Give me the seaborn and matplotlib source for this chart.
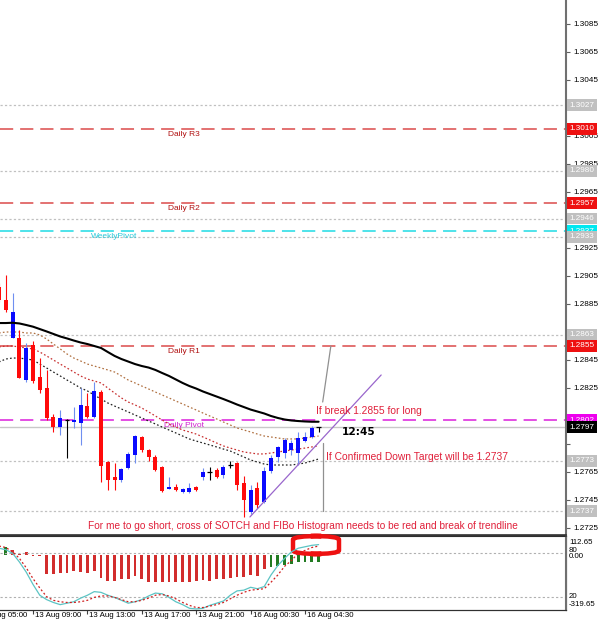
import matplotlib
matplotlib.use("Agg")
import matplotlib.pyplot as plt
import matplotlib.transforms as mtransforms
from matplotlib.patches import FancyBboxPatch
import pandas as pd
import seaborn as sns

sns.set_style("white")
plt.rcParams["font.family"] = ["Liberation Sans", "DejaVu Sans"]
plt.rcParams["lines.scale_dashes"] = False

# ---------------- data ----------------
bar_index = list(range(48))
opens = [1.28974, 1.28879, 1.28607, 1.28607, 1.28307, 1.28557, 1.28329, 1.28250, 1.28043, 1.27971,
         1.28021, 1.28007, 1.28000, 1.28121, 1.28043, 1.28221, 1.27721, 1.27614, 1.27593, 1.27679,
         1.27771, 1.27900, 1.27807, 1.27757, 1.27686, 1.27529, 1.27543, 1.27507, 1.27507, 1.27543,
         1.27614, 1.27650, 1.27664, 1.27629, 1.27700, 1.27714, 1.27571, 1.27364, 1.27536, 1.27436,
         1.27657, 1.27757, 1.27786, 1.27807, 1.27786, 1.27871, 1.27900, 1.27971]
highs = [1.29000, 1.29057, 1.28929, 1.28664, 1.28571, 1.28586, 1.28464, 1.28379, 1.28064, 1.28093,
         1.28029, 1.28114, 1.28250, 1.28214, 1.28293, 1.28236, 1.27729, 1.27714, 1.27679, 1.27793,
         1.27914, 1.27907, 1.27814, 1.27771, 1.27693, 1.27614, 1.27564, 1.27536, 1.27571, 1.27550,
         1.27679, 1.27686, 1.27679, 1.27700, 1.27729, 1.27721, 1.27621, 1.27557, 1.27579, 1.27686,
         1.27771, 1.27836, 1.27893, 1.27879, 1.27936, 1.27936, 1.27979, 1.27971]
lows = [1.28864, 1.28793, 1.28607, 1.28321, 1.28293, 1.28286, 1.28214, 1.28021, 1.27936, 1.27914,
        1.27750, 1.27964, 1.27843, 1.28036, 1.28036, 1.27579, 1.27521, 1.27521, 1.27579, 1.27671,
        1.27714, 1.27793, 1.27729, 1.27657, 1.27507, 1.27529, 1.27514, 1.27500, 1.27500, 1.27514,
        1.27593, 1.27593, 1.27607, 1.27607, 1.27679, 1.27521, 1.27329, 1.27350, 1.27393, 1.27429,
        1.27643, 1.27721, 1.27750, 1.27771, 1.27700, 1.27864, 1.27893, 1.27936]
closes = [1.28879, 1.28807, 1.28795, 1.28321, 1.28536, 1.28300, 1.28236, 1.28036, 1.27971, 1.28036,
          1.28021, 1.28021, 1.28129, 1.28043, 1.28229, 1.27693, 1.27593, 1.27593, 1.27671, 1.27779,
          1.27907, 1.27807, 1.27757, 1.27664, 1.27514, 1.27543, 1.27521, 1.27529, 1.27536, 1.27521,
          1.27650, 1.27650, 1.27614, 1.27686, 1.27700, 1.27557, 1.27450, 1.27521, 1.27414, 1.27657,
          1.27750, 1.27829, 1.27879, 1.27857, 1.27893, 1.27900, 1.27964, 1.27971]

ma_black = [1.28714, 1.28714, 1.28716, 1.28711, 1.28700, 1.28688, 1.28671, 1.28654, 1.28636, 1.28618,
            1.28604, 1.28589, 1.28575, 1.28564, 1.28550, 1.28536, 1.28507, 1.28479, 1.28457, 1.28439,
            1.28421, 1.28407, 1.28396, 1.28379, 1.28357, 1.28336, 1.28311, 1.28286, 1.28264, 1.28246,
            1.28225, 1.28207, 1.28189, 1.28171, 1.28152, 1.28132, 1.28114, 1.28096, 1.28082, 1.28068,
            1.28050, 1.28036, 1.28025, 1.28018, 1.28014, 1.28011, 1.28009, 1.28009]
ma_brown = [1.28643, 1.28650, 1.28650, 1.28650, 1.28643, 1.28643, 1.28629, 1.28600, 1.28564, 1.28529,
            1.28493, 1.28464, 1.28443, 1.28421, 1.28407, 1.28393, 1.28379, 1.28364, 1.28336, 1.28307,
            1.28286, 1.28264, 1.28243, 1.28221, 1.28200, 1.28179, 1.28157, 1.28136, 1.28114, 1.28093,
            1.28071, 1.28050, 1.28029, 1.28007, 1.27986, 1.27964, 1.27950, 1.27936, 1.27921, 1.27907,
            1.27900, 1.27893, 1.27886, 1.27886, 1.27886, 1.27893, 1.27900, 1.27907]
ma_red = [1.28543, 1.28550, 1.28550, 1.28543, 1.28536, 1.28529, 1.28507, 1.28479, 1.28450, 1.28421,
          1.28393, 1.28364, 1.28336, 1.28314, 1.28300, 1.28286, 1.28250, 1.28214, 1.28179, 1.28150,
          1.28129, 1.28107, 1.28079, 1.28050, 1.28021, 1.27993, 1.27971, 1.27950, 1.27936, 1.27921,
          1.27900, 1.27879, 1.27857, 1.27836, 1.27821, 1.27807, 1.27793, 1.27786, 1.27779, 1.27779,
          1.27786, 1.27793, 1.27800, 1.27807, 1.27814, 1.27821, 1.27829, 1.27836]
ma_black_dot = [1.28436, 1.28457, 1.28464, 1.28464, 1.28457, 1.28450, 1.28421, 1.28393, 1.28364, 1.28336,
                1.28307, 1.28279, 1.28250, 1.28229, 1.28200, 1.28171, 1.28143, 1.28121, 1.28100, 1.28079,
                1.28057, 1.28036, 1.28014, 1.27993, 1.27971, 1.27950, 1.27929, 1.27907, 1.27886, 1.27871,
                1.27857, 1.27843, 1.27829, 1.27814, 1.27800, 1.27779, 1.27757, 1.27736, 1.27721, 1.27707,
                1.27700, 1.27700, 1.27700, 1.27700, 1.27707, 1.27714, 1.27729, 1.27743]

stoch_main = [87, 85, 80, 68, 54, 37, 22, 16, 12, 9, 11, 13, 18, 22, 27, 26, 22, 19, 15, 11,
              13, 16, 21, 25, 24, 19, 13, 9, 4, 3, 4, 8, 11, 14, 22, 28, 29, 33, 31, 34,
              50, 63, 73, 82, 87, 89, 91, 92]
stoch_signal = [90, 88, 82, 73, 60, 45, 32, 20, 15, 13, 12, 12, 13, 15, 19, 21, 21, 19, 16, 13,
                13, 15, 18, 22, 23, 21, 17, 12, 8, 5, 5, 7, 9, 12, 17, 22, 26, 29, 30, 31,
                40, 50, 62, 70, 80, 84, 88, 90]
hist_vals = [48, 48, 28, 10, 20, -3, -3, -112, -108, -104, -104, -94, -98, -104, -89, -134, -148, -148,
             -138, -138, -122, -138, -154, -154, -154, -154, -154, -154, -154, -148, -142, -148, -138,
             -138, -134, -124, -124, -118, -122, -83, -69, -63, -59, -49, -40, -40, -40, -40]
hist_dir = ["up"] * 2 + ["down"] * 38 + ["up"] * 8

level_prices = [1.3027, 1.3010, 1.2980, 1.2957, 1.2946, 1.2937, 1.2933, 1.2863, 1.2855,
                1.2802, 1.2797, 1.2773, 1.2737]
level_kinds = ["grey", "red", "grey", "red", "grey", "cyan", "grey", "grey", "red",
               "magenta", "bid", "grey", "grey"]
pivot_names = ["Daily R3", "Daily R2", "WeeklyPivot", "Daily R1", "Daily Pivot"]
pivot_prices = [1.3010, 1.2957, 1.2937, 1.2855, 1.2802]

price_ticks = [1.3085, 1.3065, 1.3045, 1.3025, 1.3005, 1.2985, 1.2965, 1.2945, 1.2925, 1.2905,
               1.2885, 1.2865, 1.2845, 1.2825, 1.2805, 1.2785, 1.2765, 1.2745, 1.2725]
hidden_ticks = [1.3025, 1.2945, 1.2865, 1.2805, 1.2785]
time_ticks = [-3, 5, 13, 21, 29, 37, 45]
time_labels = ["13 Aug 05:00", "13 Aug 09:00", "13 Aug 13:00", "13 Aug 17:00",
               "13 Aug 21:00", "16 Aug 00:30", "16 Aug 04:30"]

trend_x = [36.9, 56.2]
trend_y = [1.27329, 1.28343]
up_arrow_x = [47.6, 48.8]
up_arrow_y = [1.28150, 1.28550]
down_arrow_x = [47.6, 47.6]
down_arrow_y = [1.27857, 1.27371]

# ---------------- figure ----------------
W, H = 598, 625
fig = plt.figure(figsize=(W / 100, H / 100), dpi=100)
ax = fig.add_axes([0, 1 - 535 / H, 566 / W, 535 / H])
axi = fig.add_axes([0, 1 - 610 / H, 566 / W, 74 / H])
axs = axi.twinx()

XL = (0.147, 83.38)
YL_MAIN = (1.27200, 1.310214)

styles = {
    "grey": dict(color="#c0c0c0", lw=0.9, ls=(0, (1.6, 1.6))),
    "red": dict(color="#e06666", lw=1.3, ls=(0, (9.5, 5))),
    "cyan": dict(color="#40e0e8", lw=1.3, ls=(0, (9.5, 5))),
    "magenta": dict(color="#e040e0", lw=1.3, ls=(0, (9.5, 5))),
    "bid": dict(color="#c8c8c8", lw=1.0, ls="-"),
}
box_colors = {"grey": ("#c0c0c0", "white"), "red": ("#ee1111", "white"),
              "cyan": ("#00e8f0", "white"), "magenta": ("#ee00ee", "white"),
              "bid": ("black", "white")}
for p, k in zip(level_prices, level_kinds):
    st = styles[k]
    ax.axhline(p, color=st["color"], lw=st["lw"], ls=st["ls"], zorder=1)

# pivot names
name_colors = {"Daily R3": "#b01010", "Daily R2": "#b01010", "Daily R1": "#b01010",
               "WeeklyPivot": "#28c8d8", "Daily Pivot": "#d020d0"}
name_x = {"WeeklyPivot": 16.9}
for nm, p in zip(pivot_names, pivot_prices):
    ax.annotate(nm, (name_x.get(nm, 27.2), p), xytext=(0, -1.5), textcoords="offset points",
                ha="center", va="top", fontsize=6.0, color=name_colors[nm], zorder=3)

# moving averages (seaborn)
df = pd.DataFrame({"i": bar_index, "black": ma_black, "brown": ma_brown,
                   "red": ma_red, "bdot": ma_black_dot})
sns.lineplot(data=df, x="i", y="brown", ax=ax, color="#b07040", lw=0.9,
             linestyle=(0, (1.2, 1.6)), zorder=4)
sns.lineplot(data=df, x="i", y="red", ax=ax, color="#c83030", lw=0.9,
             linestyle=(0, (1.2, 1.6)), zorder=4)
sns.lineplot(data=df, x="i", y="bdot", ax=ax, color="#202020", lw=0.9,
             linestyle=(0, (1.2, 1.6)), zorder=4)

# candles
for i, o, h, l, c in zip(bar_index, opens, highs, lows, closes):
    if c > o:
        body, wick = "#0a0aff", "#6f8ff0"
    elif c < o:
        body, wick = "#ff0a0a", "#ff0a0a"
    else:
        body, wick = "black", "black"
    ax.vlines(i, l, h, color=wick, lw=0.8, zorder=5)
    if c != o:
        ax.bar(i, abs(c - o), bottom=min(o, c), width=0.6, color=body, lw=0, zorder=6)
    else:
        ax.hlines(o, i - 0.35, i + 0.35, color=body, lw=0.9, zorder=6)

sns.lineplot(data=df, x="i", y="black", ax=ax, color="black", lw=1.5, zorder=7)

# trend lines
ax.plot(trend_x, trend_y, color="#9966cc", lw=0.9, zorder=8)
ax.plot(up_arrow_x, up_arrow_y, color="#909090", lw=0.9, zorder=8)
ax.plot(down_arrow_x, down_arrow_y, color="#909090", lw=0.9, zorder=8)

# texts
ax.text(50.4, 1.27936, "12:45", fontsize=7.6, fontweight="bold", family="DejaVu Sans",
        ha="left", va="center", color="black", zorder=9)
ax.text(46.6, 1.28086, "If break 1.2855 for long", fontsize=7.4, color="#e0203a",
        ha="left", va="center", zorder=9)
ax.text(48.1, 1.27757, "If Confirmed Down Target will be 1.2737", fontsize=7.4,
        color="#e0203a", ha="left", va="center", zorder=9)
ax.text(44.7, 1.27264, "For me to go short, cross of SOTCH and FIBo Histogram needs to be red "
        "and break of trendline", fontsize=7.25, color="#e0203a", ha="center", va="center", zorder=9)

# axes styling main
ax.set_xlabel("")
ax.set_ylabel("")
ax.set_xticks([])
ax.yaxis.tick_right()
ax.set_yticks(price_ticks)
ax.set_yticklabels(["" if any(abs(t - h) < 1e-6 for h in hidden_ticks) else f"{t:.4f}"
                    for t in price_ticks])
ax.tick_params(axis="y", right=True, length=3, width=0.8, color="#606060", pad=2,
               labelsize=5.9, labelcolor="black")
for s in ["left", "top"]:
    ax.spines[s].set_visible(False)
ax.spines["right"].set_color("#707070")
ax.spines["right"].set_linewidth(1.5)
ax.spines["bottom"].set_color("#303030")
ax.spines["bottom"].set_linewidth(1.2)

blend = mtransforms.blended_transform_factory(ax.transAxes, ax.transData)
for p, k in zip(level_prices, level_kinds):
    fc, tc = box_colors[k]
    ax.text(1 + 3.5 / 566, p, f"{p:.4f}", transform=blend, ha="left", va="center",
            fontsize=5.9, color=tc, zorder=20, clip_on=False,
            bbox=dict(boxstyle="square,pad=0.28", fc=fc, ec="none"))

# ---------------- indicator panel ----------------
hdf = pd.DataFrame({"i": bar_index, "v": hist_vals, "d": hist_dir})
sns.barplot(data=hdf, x="i", y="v", hue="d", palette={"up": "#138a13", "down": "#ee1111"},
            native_scale=True, width=0.42, dodge=False, legend=False, ax=axi,
            linewidth=0, zorder=2)

axs.axhline(80, color="#b0b0b0", lw=0.8, ls=(0, (1.6, 1.6)), zorder=1)
axs.axhline(20, color="#b0b0b0", lw=0.8, ls=(0, (1.6, 1.6)), zorder=1)
box = FancyBboxPatch((293 / 566, (610 - 554) / 74), (339 - 293) / 566, (554 - 536) / 74,
                     boxstyle="round,pad=0,rounding_size=0.05", transform=axs.transAxes,
                     fc="white", ec="#ee1111", lw=3.2, clip_on=False, zorder=3)
axs.add_patch(box)
sdf = pd.DataFrame({"i": bar_index, "main": stoch_main, "sig": stoch_signal})
sns.lineplot(data=sdf, x="i", y="main", ax=axs, color="#5cc4c4", lw=0.9, zorder=5)
sns.lineplot(data=sdf, x="i", y="sig", ax=axs, color="#d02020", lw=0.9,
             linestyle=(0, (1.4, 1.6)), zorder=5)

for a in (axi, axs):
    a.set_xlabel("")
    a.set_ylabel("")
    a.set_yticks([])
    a.spines["left"].set_visible(False)
axs.spines["top"].set_color("#303030")
axs.spines["top"].set_linewidth(1.2)
axs.spines["bottom"].set_color("#303030")
axs.spines["right"].set_color("#707070")
axs.spines["right"].set_linewidth(1.5)
axi.set_xticks(time_ticks)
axi.set_xticklabels([])
axi.tick_params(axis="x", bottom=True, length=3, width=0.8, color="#404040")

# final limits (after all seaborn calls and tick setting)
ax.set_xlim(*XL)
ax.set_ylim(*YL_MAIN)
axi.set_xlim(*XL)
axs.set_xlim(*XL)
axi.set_ylim(-319.65, 112.65)
axs.set_ylim(1.6, 103.9)

tb = mtransforms.blended_transform_factory(axi.transData, fig.transFigure)
for t, lab in zip(time_ticks, time_labels):
    axi.text(t + 0.3, 1 - 612 / H, lab, transform=tb, ha="left", va="top",
             fontsize=5.7, color="black", clip_on=False)

# indicator scale labels
for txt, py in [("112.65", 543), ("80", 551), ("0.00", 556.5), ("20", 596), ("-319.65", 604)]:
    fig.text(569 / W, 1 - py / H, txt, ha="left", va="center", fontsize=5.7, color="black")

fig.savefig("out.png", dpi=100)
